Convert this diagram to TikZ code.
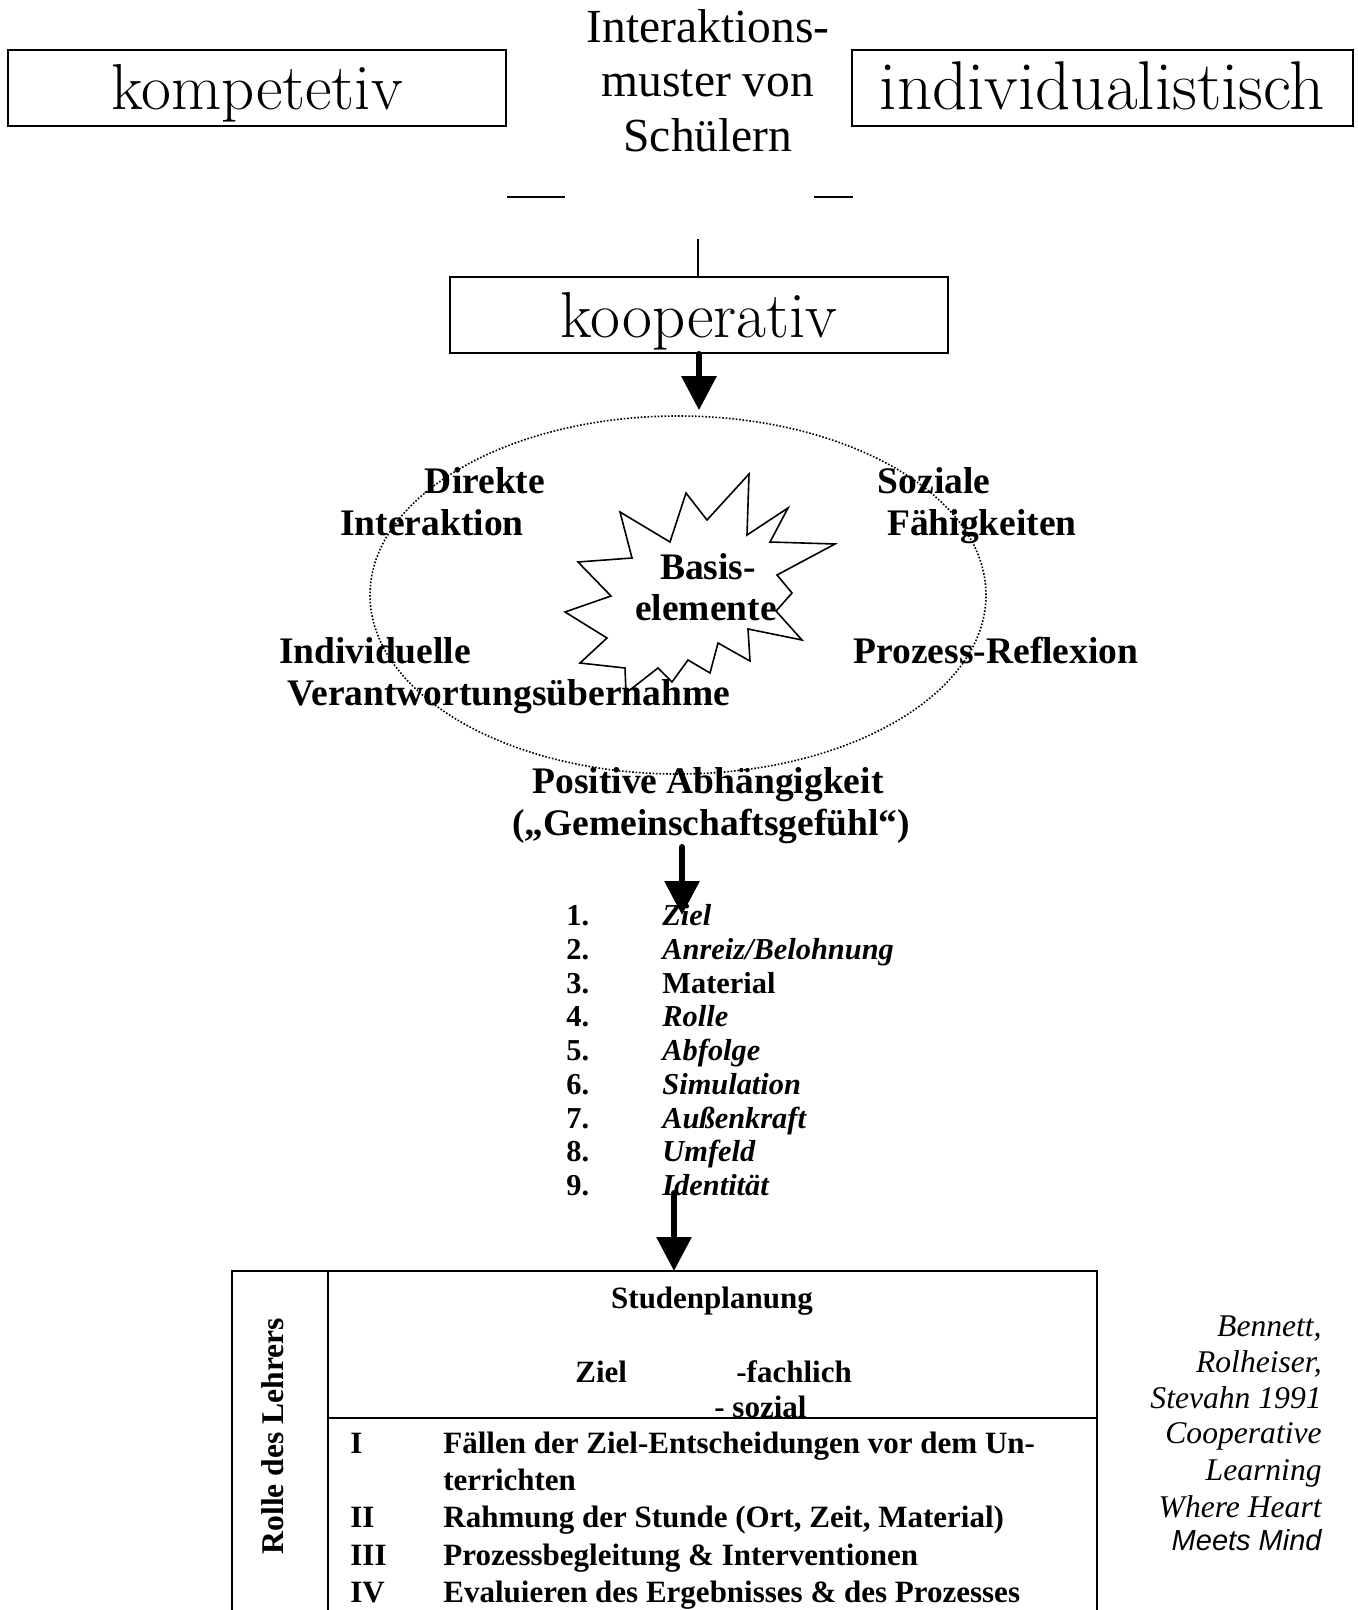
\documentclass[tikz,border=0pt]{standalone}
\usepackage{fontspec}
\usepackage{tikz}
\usetikzlibrary{positioning, shapes.geometric, arrows.meta}
\newfontfamily\tnr{Liberation Serif}
\newfontfamily\arl{Liberation Sans}

\begin{document}
\begin{tikzpicture}[
    x=0.5pt, y=-0.5pt,
    mbox/.style={
        draw, line width=1pt,
        minimum width=249pt, minimum height=38pt,
        inner sep=0pt, text height=22pt, text depth=0pt,
        font=\fontsize{32.5}{38}\selectfont
    },
    head/.style={font=\tnr\fontsize{23.75}{27}\selectfont, anchor=base, inner sep=0pt},
    elem/.style={font=\tnr\bfseries\fontsize{18.75}{21}\selectfont, anchor=base, inner sep=0pt},
    num/.style={font=\tnr\bfseries\fontsize{15.2}{17}\selectfont, anchor=base west, inner sep=0pt},
    itm/.style={num, font=\tnr\bfseries\itshape\fontsize{15.2}{17}\selectfont},
    tab/.style={font=\tnr\bfseries\fontsize{15.5}{18}\selectfont, anchor=base west, inner sep=0pt},
    cite/.style={font=\tnr\itshape\fontsize{15.8}{18}\selectfont, anchor=base east, inner sep=0pt},
    ring/.style={ellipse, draw, line width=0.8pt, dash pattern=on 0.8pt off 0.9pt,
        minimum width=308pt, minimum height=179pt, inner sep=0pt},
    burst/.style={line width=0.8pt, line join=miter},
    bigarr/.style={line width=3pt, line cap=round, -{Triangle[length=17pt, width=17pt]}},
    thin/.style={line width=0.6pt},
    grid/.style={line width=1pt}
]
\useasboundingbox (0,0) rectangle (1358,1610);

% top row
\node[mbox] (komp) at (257,88) {kompetetiv};
\node[mbox, minimum width=250.5pt, font=\fontsize{34.5}{40}\selectfont] (indiv) at (1102.5,88) {individualistisch};
\node[head] (h1) at (708,43) {Interaktions-};
\node[head] (h2) at (708,97) {muster von};
\node[head] (h3) at (708,152) {Schülern};
\draw[thin] (507,197) -- (565,197);
\draw[thin] (814,197) -- (853,197);

\coordinate (stub) at (698,239);
\node[mbox] (koop) at (699,315) {kooperativ};
\draw[thin] (stub) -- (stub |- koop.north);

% Basiselemente
\node[ring] (kreis) at (678,595) {};
\draw[bigarr] (koop.south) -- ([yshift=2.5pt]koop.south |- kreis.north);

\draw[burst] (749,474) -- (747,535) -- (788,508) -- (770,542) -- (835,544)
  -- (777,575) -- (792,593) -- (776,611) -- (802,640) -- (748,629)
  -- (750,661) -- (718,643) -- (710,673) -- (688,660) -- (672,682)
  -- (658,668) -- (626,693) -- (625,668) -- (580,663) -- (607,638)
  -- (565,612) -- (611,596) -- (578,562) -- (632,558) -- (620,512)
  -- (670,542) -- (686,493) -- (707,520) -- cycle;

\node[elem] (basis1) at (708,579) {Basis-};
\node[elem] (basis2) at (706,620) {elemente};
\node[elem] (direkt1) at (485,493) {Direkte};
\node[elem] (direkt2) at (432,535) {Interaktion};
\node[elem] (sozial1) at (934,493) {Soziale};
\node[elem] (sozial2) at (982,535) {Fähigkeiten};
\node[elem] (indiv1) at (375,663) {Individuelle};
\node[elem] (indiv2) at (509,705) {Verantwortungsübernahme};
\node[elem] (prozess) at (996,663) {Prozess-Reflexion};
\node[elem] (posab) at (708,793) {Positive Abhängigkeit};
\node[elem] (gemein) at (711,835) {(„Gemeinschaftsgefühl“)};

% Liste
\coordinate (a2s) at (682,847);
\coordinate (a2e) at (682,915);
\node[num] (n1) at (566,925) {1.};
\node[num] (n2) at (566,959) {2.};
\node[num] (n3) at (566,993) {3.};
\node[num] (n4) at (566,1026) {4.};
\node[num] (n5) at (566,1060) {5.};
\node[num] (n6) at (566,1094) {6.};
\node[num] (n7) at (566,1128) {7.};
\node[num] (n8) at (566,1161) {8.};
\node[num] (n9) at (566,1195) {9.};
\node[itm] (ziel) at (662,925) {Ziel};
\node[itm] (anreiz) at (662,959) {Anreiz/Belohnung};
\node[num] (material) at (662,993) {Material};
\node[itm] (rolle) at (662,1026) {Rolle};
\node[itm] (abfolge) at (662,1060) {Abfolge};
\node[itm] (simul) at (662,1094) {Simulation};
\node[itm] (aussen) at (662,1128) {Außenkraft};
\node[itm] (umfeld) at (662,1161) {Umfeld};
\node[itm] (ident) at (662,1195) {Identität};
\draw[bigarr] (a2s) -- (a2e);

% Tabelle
\coordinate (a3s) at (674,1193);
\coordinate (tabtop) at (674,1271);
\draw[grid] (232,1612) |- (1097,1271) -- (1097,1612);
\draw[grid] (328,1271) -- (328,1612);
\draw[grid] (328,1418) -- (1097,1418);
\draw[bigarr] (a3s) -- (tabtop);

\node[tab, rotate=90, anchor=center, font=\tnr\bfseries\fontsize{15.8}{18}\selectfont] (lehrer) at (273,1436) {Rolle des Lehrers};
\node[tab, anchor=base] (planung) at (712,1308) {Studenplanung};
\node[tab] (zielT) at (575,1382) {Ziel};
\node[tab] (fach) at (736,1382) {-fachlich};
\node[tab] (sozT) at (714,1417) {- sozial};
\node[tab] (r1) at (350,1453) {I};
\node[tab] (r2) at (350,1527) {II};
\node[tab] (r3) at (350,1565) {III};
\node[tab] (r4) at (350,1602) {IV};
\node[tab] (t1a) at (443,1453) {Fällen der Ziel-Entscheidungen vor dem Un-};
\node[tab] (t1b) at (443,1490) {terrichten};
\node[tab] (t2) at (443,1527) {Rahmung der Stunde (Ort, Zeit, Material)};
\node[tab] (t3) at (443,1565) {Prozessbegleitung \& Interventionen};
\node[tab] (t4) at (443,1602) {Evaluieren des Ergebnisses \& des Prozesses};

% Quelle
\node[cite] (c1) at (1322,1336) {Bennett,};
\node[cite] (c2) at (1322,1372) {Rolheiser,};
\node[cite] (c3) at (1322,1408) {Stevahn 1991};
\node[cite] (c4) at (1322,1443) {Cooperative};
\node[cite] (c5) at (1322,1480) {Learning};
\node[cite] (c6) at (1322,1517) {Where Heart};
\node[cite, font=\arl\itshape\fontsize{14.5}{17}\selectfont] (c7) at (1322,1550) {Meets Mind};
\end{tikzpicture}
\end{document}
